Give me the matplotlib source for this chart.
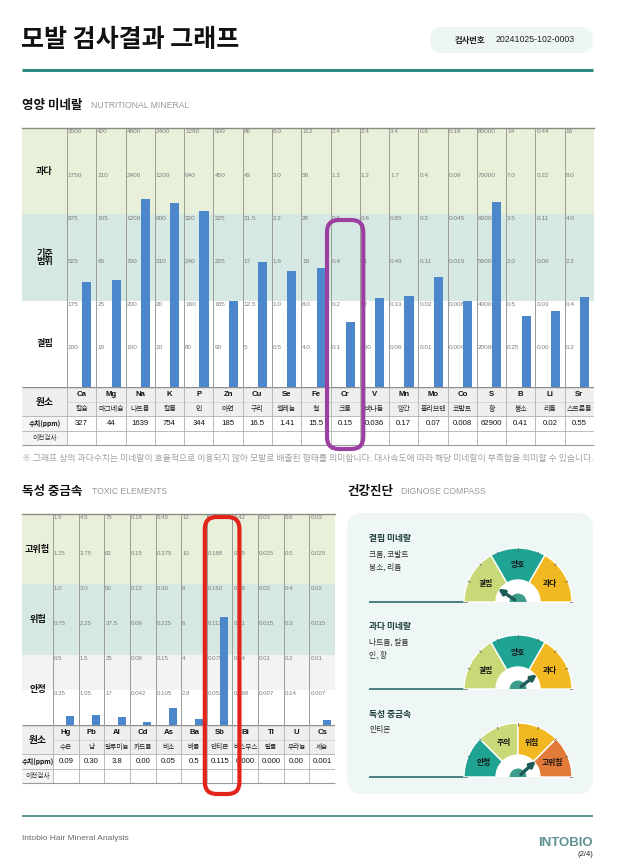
import numpy as np
import matplotlib
matplotlib.use('Agg')
import matplotlib.pyplot as plt
from matplotlib.patches import Rectangle, FancyBboxPatch, Wedge

W, H = 620, 865
KR = ['Noto Sans CJK KR', 'DejaVu Sans']
NARROW = ['Liberation Sans Narrow', 'Liberation Sans', 'DejaVu Sans']

# ---------------- data: nutritional minerals ----------------
nut_symbols = ['Ca', 'Mg', 'Na', 'K', 'P', 'Zn', 'Cu', 'Se', 'Fe', 'Cr', 'V', 'Mn',
               'Mo', 'Co', 'S', 'B', 'Li', 'Sr']
nut_names = ['칼슘', '마그네슘', '나트륨', '칼륨', '인', '아연', '구리', '셀레늄', '철', '크롬',
             '바나듐', '망간', '몰리브덴', '코발트', '황', '붕소', '리튬', '스트론튬']
nut_value_labels = ['327', '44', '1639', '754', '344', '185', '16.5', '1.41', '15.5', '0.15',
                    '0.036', '0.17', '0.07', '0.008', '62900', '0.41', '0.02', '0.55']
nut_values = [327, 44, 1639, 754, 344, 185, 16.5, 1.41, 15.5, 0.15,
              0.036, 0.17, 0.07, 0.008, 62900, 0.41, 0.025, 0.55]
# tick labels per element, top of 과다 -> middle of 결핍
nut_tick_labels = [
    ['3500', '1750', '875', '525', '175', '100'],
    ['420', '210', '105', '65', '25', '10'],
    ['4800', '2400', '1200', '700', '200', '100'],
    ['2400', '1200', '600', '310', '20', '10'],
    ['1280', '640', '320', '240', '160', '80'],
    ['900', '450', '225', '205', '185', '90'],
    ['86', '43', '21.5', '17', '12.5', '5'],
    ['6.0', '3.0', '2.2', '1.6', '1.0', '0.5'],
    ['112', '56', '28', '18', '8.0', '4.0'],
    ['2.4', '1.2', '0.6', '0.4', '0.2', '0.1'],
    ['2.4', '1.2', '0.6', '31', '02', '000'],
    ['3.4', '1.7', '0.85', '0.49', '0.13', '0.06'],
    ['0.8', '0.4', '0.2', '0.11', '0.02', '0.01'],
    ['0.18', '0.09', '0.045', '0.015', '0.008', '0.004'],
    ['80000', '70000', '60000', '50000', '40000', '20000'],
    ['14', '7.0', '3.5', '2.0', '0.5', '0.25'],
    ['0.44', '0.22', '0.11', '0.06', '0.03', '0.00'],
    ['16', '8.0', '4.0', '2.2', '0.4', '0.2'],
]
nut_tick_values = [
    [3500, 1750, 875, 525, 175, 100], [420, 210, 105, 65, 25, 10],
    [4800, 2400, 1200, 700, 200, 100], [2400, 1200, 600, 310, 20, 10],
    [1280, 640, 320, 240, 160, 80], [900, 450, 225, 205, 185, 90],
    [86, 43, 21.5, 17, 12.5, 5], [6.0, 3.0, 2.2, 1.6, 1.0, 0.5],
    [112, 56, 28, 18, 8.0, 4.0], [2.4, 1.2, 0.6, 0.4, 0.2, 0.1],
    [2.4, 1.2, 0.6, 0.31, 0.02, 0.01], [3.4, 1.7, 0.85, 0.49, 0.13, 0.06],
    [0.8, 0.4, 0.2, 0.11, 0.02, 0.01], [0.18, 0.09, 0.045, 0.015, 0.008, 0.004],
    [80000, 70000, 60000, 50000, 40000, 20000], [14, 7.0, 3.5, 2.0, 0.5, 0.25],
    [0.44, 0.22, 0.11, 0.06, 0.03, 0.01], [16, 8.0, 4.0, 2.2, 0.4, 0.2],
]
nut_bands = ['과다', '기준\n범위', '결핍']

# ---------------- data: toxic elements ----------------
tox_symbols = ['Hg', 'Pb', 'Al', 'Cd', 'As', 'Ba', 'Sb', 'Bi', 'Tl', 'U', 'Cs']
tox_names = ['수은', '납', '알루미늄', '카드뮴', '비소', '바륨', '안티몬', '비스무스', '탈륨', '우라늄', '세슘']
tox_value_labels = ['0.09', '0.30', '3.8', '0.00', '0.05', '0.5', '0.115', '0.000', '0.000', '0.00', '0.001']
tox_values = [0.09, 0.30, 3.8, 0.003, 0.05, 0.5, 0.115, 0.0, 0.0, 0.0, 0.001]
tox_tick_labels = [
    ['1.5', '1.25', '1.0', '0.75', '0.5', '0.35'],
    ['4.5', '3.75', '3.0', '2.25', '1.5', '1.05'],
    ['75', '62', '50', '37.5', '25', '17'],
    ['0.18', '0.15', '0.12', '0.09', '0.06', '0.042'],
    ['0.45', '0.375', '0.30', '0.225', '0.15', '0.105'],
    ['12', '10', '8', '6', '4', '2.8'],
    ['0.225', '0.188', '0.150', '0.112', '0.075', '0.052'],
    ['0.42', '0.35', '0.28', '0.21', '0.14', '0.098'],
    ['0.03', '0.025', '0.02', '0.015', '0.01', '0.007'],
    ['0.6', '0.5', '0.4', '0.3', '0.2', '0.14'],
    ['0.03', '0.025', '0.02', '0.015', '0.01', '0.007'],
]
tox_bands = ['고위험', '위험', '안정']

# ---------------- data: compass ----------------
gauge_titles = ['결핍 미네랄', '과다 미네랄', '독성 중금속']
gauge_items = ['크롬, 코발트\n붕소, 리튬', '나트륨, 칼륨\n인, 황', '안티몬']
gauge_sectors = [['결핍', '양호', '과다'], ['결핍', '양호', '과다'], ['안정', '주의', '위험', '고위험']]
gauge_colors = [['#c9d978', '#1fa393', '#f2b821'], ['#c9d978', '#1fa393', '#f2b821'],
                ['#1fa393', '#c9d978', '#f2b821', '#e27b3a']]
gauge_needle_deg = [146, 38, 42]

LEVELS = [0, 0.5, 1, 1.5, 2, 2.5, 3]
TICK_LEVELS = [3, 2.5, 2, 1.5, 1, 0.5]


def to_level(v, ticks_top_down):
    xs = [0] + list(ticks_top_down[::-1])
    return float(np.interp(v, xs, LEVELS))


fig = plt.figure(figsize=(W / 100, H / 100), dpi=100)
page = fig.add_axes([0, 0, 1, 1], zorder=0)
page.set_xlim(0, W)
page.set_ylim(H, 0)
page.axis('off')


def px_axes(x0, y0, x1, y1, z=1):
    a = fig.add_axes([x0 / W, 1 - y1 / H, (x1 - x0) / W, (y1 - y0) / H], zorder=z)
    a.axis('off')
    return a


# ---------------- header ----------------
page.text(21, 40, '모발 검사결과 그래프', fontsize=18, fontweight='bold', family=KR,
          va='center', ha='left', color='#111111')
page.add_patch(FancyBboxPatch((430, 27), 163, 26, boxstyle='round,pad=0,rounding_size=13',
                              fc='#eef5f5', ec='none'))
page.text(455, 40, '검사번호', fontsize=6, fontweight='bold', family=KR, va='center', color='#222222')
page.text(496, 40, '20241025-102-0003', fontsize=6.3, family=NARROW, va='center', color='#222222')
page.plot([22, 593], [70, 70], color='#2f8a85', lw=2.2, solid_capstyle='butt')

page.text(22, 105, '영양 미네랄', fontsize=9, fontweight='bold', family=KR, va='center', color='#111111')
page.text(91, 106, 'NUTRITIONAL MINERAL', fontsize=6.2, family=NARROW, va='center', color='#9a9a9a')
page.text(22, 491, '독성 중금속', fontsize=9, fontweight='bold', family=KR, va='center', color='#111111')
page.text(92, 492, 'TOXIC ELEMENTS', fontsize=6.2, family=NARROW, va='center', color='#9a9a9a')
page.text(347, 491, '건강진단', fontsize=9, fontweight='bold', family=KR, va='center', color='#111111')
page.text(401, 492, 'DIGNOSE COMPASS', fontsize=6.2, family=NARROW, va='center', color='#9a9a9a')


def draw_block(x0, xcol0, x1, y_top, y_base, y_bot, n, band_labels, band_cols,
               tick_labels, tick_values, values, symbols, names, value_labels,
               tick_fs, name_fs):
    colw = (x1 - xcol0) / n
    LW = (xcol0 - x0) / colw
    ax = px_axes(x0, y_top, x1, y_base)
    ax.set_xlim(-LW, n)
    ax.set_ylim(0, 3)
    for (lo, hi), c in zip([(2, 3), (1, 2), (0.5, 1), (0, 0.5)], band_cols):
        ax.axhspan(lo, hi, color=c, lw=0, zorder=0)
    ax.axhline(3, color='#8c8c84', lw=1.0, clip_on=False, zorder=4)
    ax.vlines(np.arange(n), 0, 3, color='#9c9c94', lw=0.7, zorder=1)
    for i in range(n):
        for lbl, lev in zip(tick_labels[i], TICK_LEVELS):
            ax.annotate(lbl, (i, lev), xytext=(0.7, -1.0), textcoords='offset points',
                        fontsize=tick_fs, color='#7c7c7c', family=NARROW,
                        va='top', ha='left', zorder=2)
    levels = [to_level(v, t) for v, t in zip(values, tick_values)]
    ax.bar(np.arange(n) + 0.68, levels, width=0.31, color='#4d87cb', zorder=3)
    for lab, lev in zip(band_labels, [2.5, 1.5, 0.5]):
        ax.text(-LW / 2, lev, lab, ha='center', va='center', fontsize=6.6, fontweight='bold',
                family=KR, color='#111111', linespacing=0.95)

    # table
    tax = px_axes(x0, y_base, x1, y_bot)
    tax.set_xlim(-LW, n)
    tax.set_ylim(4, 0)
    tax.add_patch(Rectangle((-LW, 0), LW + n, 2, fc='#efefef', ec='none', zorder=0))
    tax.add_patch(Rectangle((-LW, 2), LW, 2, fc='#f4f4f4', ec='none', zorder=0))
    tax.hlines(0, -LW, n, color='#8c8c8c', lw=1.0, zorder=2)
    tax.hlines(1, 0, n, color='#cfcfcf', lw=0.5, zorder=2)
    tax.hlines([2, 3], -LW, n, color='#b0b0b0', lw=0.6, zorder=2)
    tax.hlines(4, -LW, n, color='#9a9a9a', lw=0.8, zorder=2, clip_on=False)
    tax.vlines(np.arange(n), 0, 4, color='#b0b0b0', lw=0.6, zorder=2)
    for i in range(n):
        tax.text(i + 0.5, 0.55, symbols[i], ha='center', va='center', fontsize=5.6,
                 fontweight='bold', family=NARROW, color='#111111')
        tax.text(i + 0.5, 1.55, names[i], ha='center', va='center', fontsize=name_fs,
                 family=KR, color='#222222')
        tax.text(i + 0.5, 2.55, value_labels[i], ha='center', va='center', fontsize=5.6,
                 family=NARROW, color='#111111')
    tax.text(-LW / 2, 1.0, '원소', ha='center', va='center', fontsize=7, fontweight='bold',
             family=KR, color='#111111')
    tax.text(-LW / 2, 2.5, '수치(ppm)', ha='center', va='center', fontsize=4.8, fontweight='bold',
             family=KR, color='#111111')
    tax.text(-LW / 2, 3.5, '이전검사', ha='center', va='center', fontsize=4.8,
             family=KR, color='#333333')
    return colw


nut_colw = draw_block(22, 67, 594, 128, 387, 445, len(nut_symbols), nut_bands,
                      ['#e8f0d9', '#d6e8e3', '#ffffff', '#ffffff'],
                      nut_tick_labels, nut_tick_values, nut_values, nut_symbols, nut_names,
                      nut_value_labels, 4.6, 5.0)

tox_tick_values = [[float(s) for s in row] for row in tox_tick_labels]
tox_colw = draw_block(22, 53, 335, 514, 725, 783, len(tox_symbols), tox_bands,
                      ['#e8f0d9', '#d6e8e3', '#f3f3f3', '#ffffff'],
                      tox_tick_labels, tox_tick_values, tox_values, tox_symbols, tox_names,
                      tox_value_labels, 4.4, 4.8)

page.text(22, 458, '※ 그래프 상의 과다수치는 미네랄이 효율적으로 이용되지 않아 모발로 배출된 형태를 의미합니다. '
          '대사속도에 따라 해당 미네랄이 부족함을 의미할 수 있습니다.',
          fontsize=6.35, family=KR, color='#a0a0a0', va='center')

# ---------------- compass panel ----------------
page.add_patch(FancyBboxPatch((347, 513), 246, 281, boxstyle='round,pad=0,rounding_size=16',
                              fc='#eff6f6', ec='none'))
gcx = 518
gauge_cy = [602, 689, 777]
title_y = [538, 626, 714]
R_OUT, R_IN = 54, 22
for k in range(3):
    cy = gauge_cy[k]
    page.text(369, title_y[k], gauge_titles[k], fontsize=6.3, fontweight='bold', family=KR,
              va='center', color='#1d3d3e')
    page.text(369, title_y[k] + 12, gauge_items[k], fontsize=5.6, family=KR, va='top',
              color='#333333', linespacing=1.75)
    page.plot([369, gcx - R_OUT], [cy, cy], color='#1f5f64', lw=1.1, solid_capstyle='butt')

    gx = px_axes(gcx - 60, cy - 60, gcx + 60, cy + 1, z=2)
    gx.set_xlim(-60, 60)
    gx.set_ylim(-1, 60)
    secs = gauge_sectors[k]
    ns = len(secs)
    span = 180.0 / ns
    for j, (lab, col) in enumerate(zip(secs, gauge_colors[k])):
        t2 = 180 - j * span
        t1 = t2 - span
        gx.add_patch(Wedge((0, 0), R_OUT, t1, t2, width=R_OUT - R_IN, fc=col, ec='white', lw=1.0))
        mid = np.deg2rad((t1 + t2) / 2)
        gx.text(37 * np.cos(mid), 37 * np.sin(mid), lab, ha='center', va='center',
                fontsize=5.6, fontweight='bold', family=KR, color='#111111')
    for a in np.arange(0, 181, 22.5):
        r = np.deg2rad(a)
        gx.plot([R_OUT * np.cos(r), (R_OUT - 2.5) * np.cos(r)],
                [R_OUT * np.sin(r), (R_OUT - 2.5) * np.sin(r)], color='#4a5a5a', lw=0.5)
    gx.add_patch(Wedge((0, 0), R_IN, 0, 180, fc='white', ec='none'))
    gx.add_patch(Wedge((0, 0), 8.5, 0, 180, fc='#3e9e8c', ec='none'))
    ang = np.deg2rad(gauge_needle_deg[k])
    gx.annotate('', xy=(24 * np.cos(ang), 24 * np.sin(ang)),
                xytext=(4 * np.cos(ang), 4 * np.sin(ang)),
                arrowprops=dict(arrowstyle='-|>', color='#1c5b57', lw=2.4,
                                mutation_scale=8, shrinkA=0, shrinkB=0))

# ---------------- footer ----------------
page.plot([22, 593], [816, 816], color='#2a7573', lw=1.1, solid_capstyle='butt')
page.text(22, 839, 'Intobio Hair Mineral Analysis', fontsize=6.0, family=NARROW,
          va='center', color='#6a6a6a')
page.text(593, 843, 'INTOBIO', fontsize=9.5, fontweight='bold', family=['Liberation Sans', 'DejaVu Sans'],
          va='center', ha='right', color='#5f9092')
page.text(585, 854, '(2/4)', fontsize=5.5, family=NARROW, va='center', ha='center', color='#222222')

# ---------------- hand-drawn highlight marks (overlay on top) ----------------
over = fig.add_axes([0, 0, 1, 1], zorder=30)
over.set_xlim(0, W)
over.set_ylim(H, 0)
over.axis('off')
over.patch.set_alpha(0)
cr = nut_symbols.index('Cr')
cx0 = 67 + cr * nut_colw
over.add_patch(FancyBboxPatch((cx0 - 3.5, 220), nut_colw + 7, 229,
                              boxstyle='round,pad=0,rounding_size=12', fc='none',
                              ec='#9b3fa1', lw=3))
sb = tox_symbols.index('Sb')
sx0 = 53 + sb * tox_colw
over.add_patch(FancyBboxPatch((sx0 - 2, 517), tox_colw + 9, 277,
                              boxstyle='round,pad=0,rounding_size=12', fc='none',
                              ec='#e2231a', lw=3))

fig.savefig('out.png', dpi=100)
